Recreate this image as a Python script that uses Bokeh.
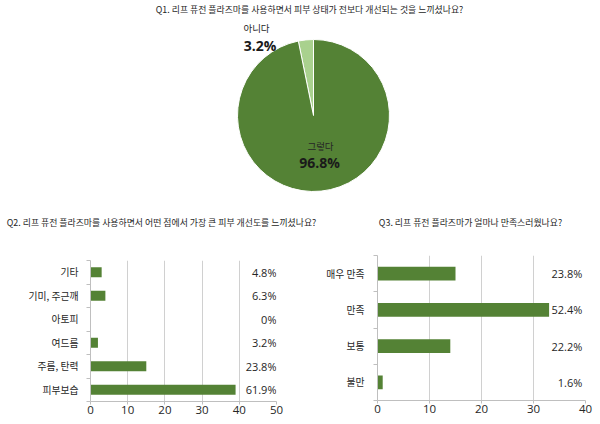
import math
from bokeh.plotting import figure
from bokeh.layouts import column, row
from bokeh.models import Range1d, FixedTicker, ColumnDataSource
from bokeh.embed import file_html
from bokeh.resources import INLINE
from bokeh.core.properties import value

# ---------------- data ----------------
q1_title = "Q1. 리프 퓨전 플라즈마를 사용하면서 피부 상태가 전보다 개선되는 것을 느끼셨나요?"
q1_labels = ["아니다", "그렇다"]
q1_values = [3.2, 96.8]
q1_colors = ["#a9d18e", "#548235"]

q2_title = "Q2. 리프 퓨전 플라즈마를 사용하면서 어떤 점에서 가장 큰 피부 개선도를 느끼셨나요?"
q2_categories = ["기타", "기미, 주근깨", "아토피", "여드름", "주름, 탄력", "피부보습"]
q2_counts = [3, 4, 0, 2, 15, 39]
q2_percent_labels = ["4.8%", "6.3%", "0%", "3.2%", "23.8%", "61.9%"]
q2_ticks = [0, 10, 20, 30, 40, 50]

q3_title = "Q3. 리프 퓨전 플라즈마가 얼마나 만족스러웠나요?"
q3_categories = ["매우 만족", "만족", "보통", "불만"]
q3_counts = [15, 33, 14, 1]
q3_percent_labels = ["23.8%", "52.4%", "22.2%", "1.6%"]
q3_ticks = [0, 10, 20, 30, 40]

# ---------------- style ----------------
GREEN = "#548235"
AXIS = "#bfbfbf"
GRID = "#d0d0d0"
TEXT = "#262626"
KR = "Noto Sans CJK KR"
NUM = "Open Sans"

# ---------------- top figure: pie + titles ----------------
# data coordinates follow page pixels (data y = 424 - page y)
top = figure(width=600, height=230, x_range=Range1d(0, 600), y_range=Range1d(194, 424),
             output_backend="svg", toolbar_location=None, title=None, min_border=0,
             x_axis_location=None, y_axis_location=None)
for g in top.grid:
    g.visible = False
top.outline_line_color = None

total = sum(q1_values)
starts, ends = [], []
acc = 0.0
for v in q1_values:
    starts.append(math.pi / 2 + 2 * math.pi * acc / total)
    acc += v
    ends.append(math.pi / 2 + 2 * math.pi * acc / total)
pie_src = ColumnDataSource(dict(start=starts, end=ends, color=q1_colors))
top.wedge(x=313, y=309, radius=76, start_angle="start", end_angle="end",
          fill_color="color", line_color="white", line_width=1, source=pie_src)

top.text(x=[256, 320], y=[397, 279], text=q1_labels, text_font=value(KR),
         text_font_size="9.5px", text_align="center", text_baseline="middle", text_color=TEXT)
top.text(x=[259.5, 319], y=[379, 262], text=[f"{v}%" for v in q1_values], text_font=value(NUM),
         text_font_style="bold", text_font_size="14px", text_align="center",
         text_baseline="middle", text_color="#1a1a1a")

top.text(x=[309, 161, 470], y=[415, 202, 202], text=[q1_title, q2_title, q3_title],
         text_font=value(KR), text_font_size="8.9px", text_align="center",
         text_baseline="middle", text_color=TEXT)


def bar_chart(cats, counts, pct, ticks, border_l, border_r, border_t, border_b, standoff,
              bar_h, pct_x):
    n = len(cats)
    p = figure(width=300, height=194, x_range=Range1d(ticks[0], ticks[-1]),
               y_range=Range1d(0.5, n + 0.5), output_backend="svg", toolbar_location=None,
               title=None, min_border_left=border_l, min_border_right=border_r,
               min_border_top=border_t, min_border_bottom=border_b)
    p.outline_line_color = None
    ypos = [n - i for i in range(n)]
    src = ColumnDataSource(dict(y=ypos, right=counts, pct=pct))
    p.hbar(y="y", left=0, right="right", height=bar_h, fill_color=GREEN,
           line_color=None, source=src)
    p.text(x=pct_x, y="y", text="pct", source=src, text_font=value(NUM),
           text_font_size="11px", text_align="right", text_baseline="middle", text_color=TEXT)

    xa = p.xaxis[0]
    xa.ticker = FixedTicker(ticks=ticks, minor_ticks=[])
    xa.axis_line_color = AXIS
    xa.major_tick_line_color = AXIS
    xa.major_tick_out = 3
    xa.major_tick_in = 0
    xa.minor_tick_line_color = None
    xa.major_label_standoff = 1
    xa.major_label_text_font = NUM
    xa.major_label_text_font_size = "11.5px"
    xa.major_label_text_color = TEXT

    ya = p.yaxis[0]
    ya.ticker = FixedTicker(ticks=ypos, minor_ticks=[i + 0.5 for i in range(n + 1)])
    ya.major_label_overrides = {n - i: c for i, c in enumerate(cats)}
    ya.axis_line_color = AXIS
    ya.major_tick_line_color = None
    ya.major_tick_out = 0
    ya.major_tick_in = 0
    ya.minor_tick_line_color = AXIS
    ya.minor_tick_out = 4
    ya.minor_tick_in = 0
    ya.major_label_standoff = standoff
    ya.major_label_text_font = KR
    ya.major_label_text_font_size = "9.8px"
    ya.major_label_text_color = TEXT

    p.xgrid.grid_line_color = GRID
    p.ygrid.grid_line_color = None
    return p


q2 = bar_chart(q2_categories, q2_counts, q2_percent_labels, q2_ticks,
               90, 24, 30, 23, 8, 0.43, q2_ticks[-1])
q3 = bar_chart(q3_categories, q3_counts, q3_percent_labels, q3_ticks,
               77, 15, 25, 24, 9, 0.38, 39.4)

layout = column(top, row(column(q2), column(q3)))
open("out.html", "w").write(file_html(layout, INLINE))
